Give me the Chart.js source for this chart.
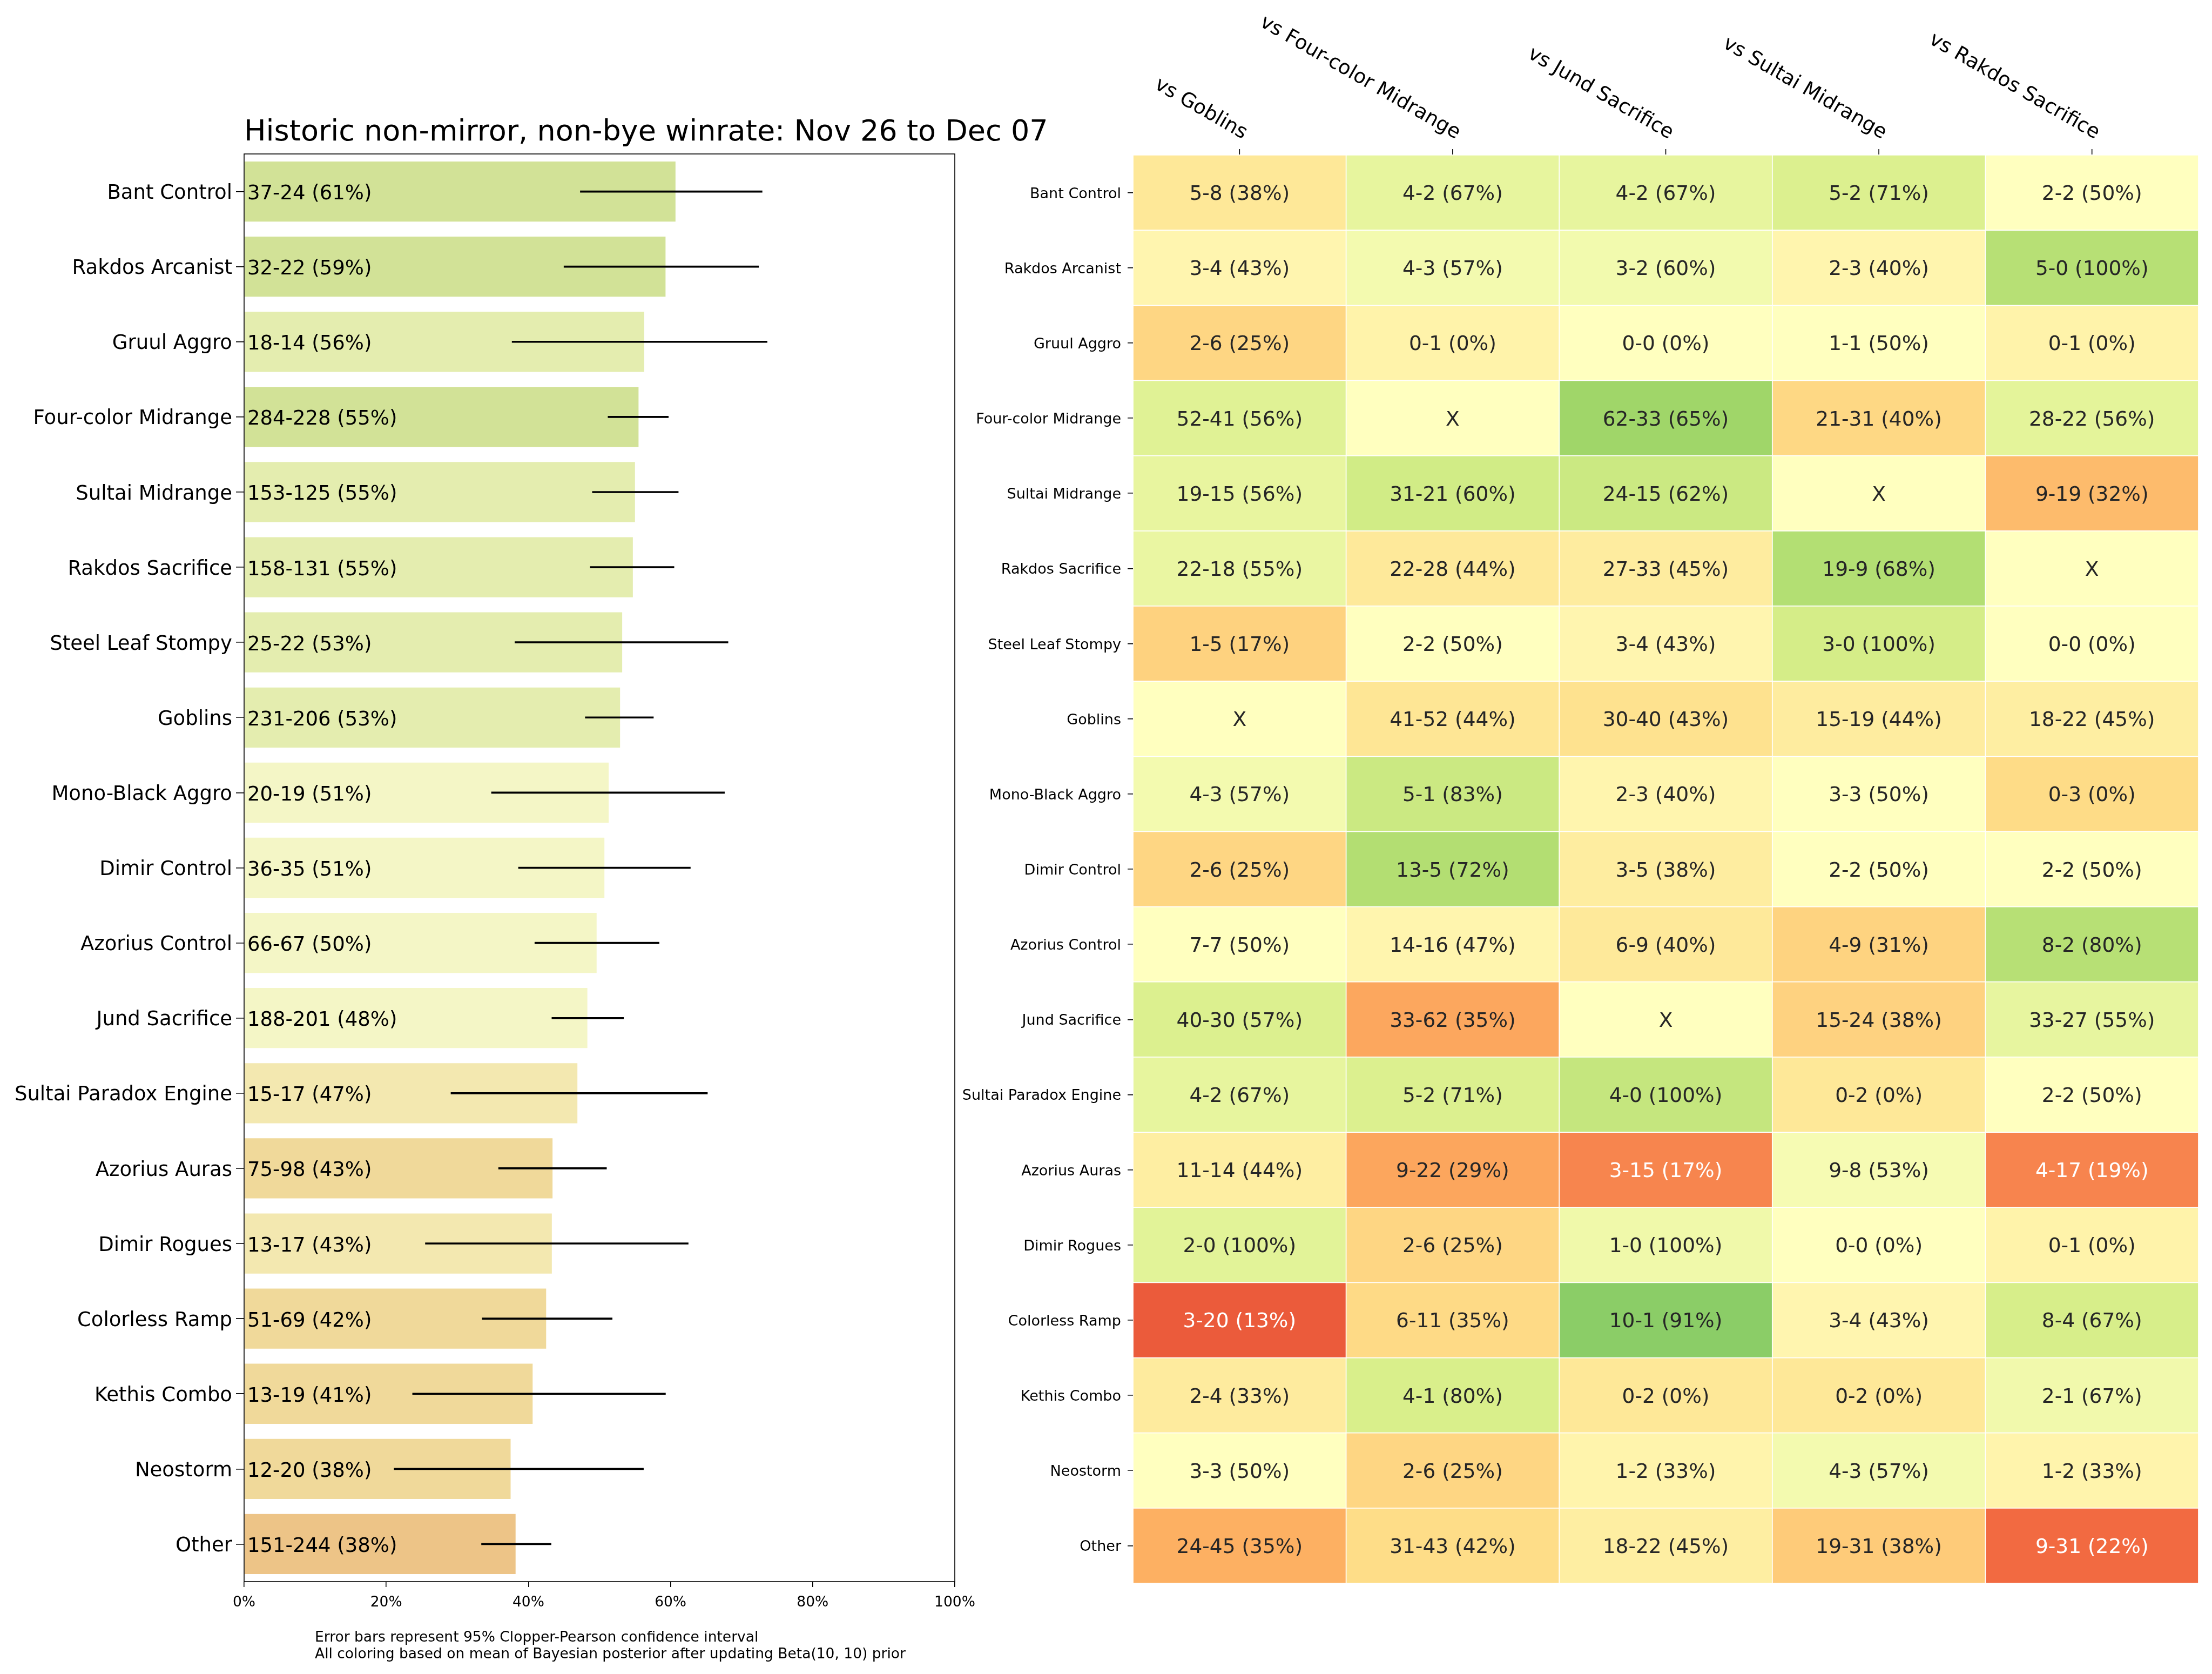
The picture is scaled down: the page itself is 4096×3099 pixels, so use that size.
<!DOCTYPE html>
<html>
<head>
<meta charset="utf-8">
<script src="https://cdn.jsdelivr.net/npm/chart.js@4.4.1/dist/chart.umd.min.js"></script>
<style>
html, body { margin: 0; padding: 0; background: #fff; }
#wrap { position: relative; width: 4096px; height: 3099px; overflow: hidden; background: #fff; }
canvas { position: absolute; top: 0; }
#bars { left: 0; }
#heat { left: 1700px; }
</style>
</head>
<body>
<div id="wrap">
<canvas id="heat" width="2396" height="3099"></canvas>
<canvas id="bars" width="2050" height="3099"></canvas>
</div>
<script>
// data
var decks = ['Bant Control', 'Rakdos Arcanist', 'Gruul Aggro', 'Four-color Midrange', 'Sultai Midrange',
    'Rakdos Sacrifice', 'Steel Leaf Stompy', 'Goblins', 'Mono-Black Aggro', 'Dimir Control',
    'Azorius Control', 'Jund Sacrifice', 'Sultai Paradox Engine', 'Azorius Auras', 'Dimir Rogues',
    'Colorless Ramp', 'Kethis Combo', 'Neostorm', 'Other'];
var deckWins = [37, 32, 18, 284, 153, 158, 25, 231, 20, 36, 66, 188, 15, 75, 13, 51, 13, 12, 151];
var deckLosses = [24, 22, 14, 228, 125, 131, 22, 206, 19, 35, 67, 201, 17, 98, 17, 69, 19, 20, 244];
var winRate = [60.7, 59.3, 56.3, 55.5, 55.0, 54.7, 53.2, 52.9, 51.3, 50.7, 49.6, 48.3, 46.9, 43.4, 43.3, 42.5, 40.6, 37.5, 38.2];
var ciLow = [47.3, 45.0, 37.7, 51.2, 49.0, 48.7, 38.1, 48.0, 34.8, 38.6, 40.9, 43.3, 29.1, 35.8, 25.5, 33.5, 23.7, 21.1, 33.4];
var ciHigh = [72.9, 72.4, 73.6, 59.7, 61.1, 60.5, 68.1, 57.6, 67.6, 62.8, 58.4, 53.4, 65.2, 51.0, 62.5, 51.8, 59.3, 56.2, 43.2];
var barColors = ['#d2e297', '#d2e297', '#e4edaf', '#d2e297', '#e4edaf', '#e4edaf', '#e4edaf', '#e4edaf',
    '#f4f6c6', '#f4f6c6', '#f4f6c6', '#f4f6c6', '#f3e8b0', '#f0d99a', '#f3e8b0', '#f0d99a', '#f0d99a',
    '#f0d99a', '#edc487'];
var xTicks = [0, 20, 40, 60, 80, 100];

var opponents = ['vs Goblins', 'vs Four-color Midrange', 'vs Jund Sacrifice', 'vs Sultai Midrange', 'vs Rakdos Sacrifice'];
// [wins, losses] per deck row, null = mirror
var vsGoblins = [[5, 8], [3, 4], [2, 6], [52, 41], [19, 15], [22, 18], [1, 5], null, [4, 3], [2, 6],
    [7, 7], [40, 30], [4, 2], [11, 14], [2, 0], [3, 20], [2, 4], [3, 3], [24, 45]];
var vsFourColor = [[4, 2], [4, 3], [0, 1], null, [31, 21], [22, 28], [2, 2], [41, 52], [5, 1], [13, 5],
    [14, 16], [33, 62], [5, 2], [9, 22], [2, 6], [6, 11], [4, 1], [2, 6], [31, 43]];
var vsJund = [[4, 2], [3, 2], [0, 0], [62, 33], [24, 15], [27, 33], [3, 4], [30, 40], [2, 3], [3, 5],
    [6, 9], null, [4, 0], [3, 15], [1, 0], [10, 1], [0, 2], [1, 2], [18, 22]];
var vsSultai = [[5, 2], [2, 3], [1, 1], [21, 31], null, [19, 9], [3, 0], [15, 19], [3, 3], [2, 2],
    [4, 9], [15, 24], [0, 2], [9, 8], [0, 0], [3, 4], [0, 2], [4, 3], [19, 31]];
var vsRakdos = [[2, 2], [5, 0], [0, 1], [28, 22], [9, 19], null, [0, 0], [18, 22], [0, 3], [2, 2],
    [8, 2], [33, 27], [2, 2], [4, 17], [0, 1], [8, 4], [2, 1], [1, 2], [9, 31]];
var matchups = [vsGoblins, vsFourColor, vsJund, vsSultai, vsRakdos];

var titleText = 'Historic non-mirror, non-bye winrate: Nov 26 to Dec 07';
var notes = ['Error bars represent 95% Clopper-Pearson confidence interval',
    'All coloring based on mean of Bayesian posterior after updating Beta(10, 10) prior'];

// helpers
var FONT = "'DejaVu Sans', sans-serif";
Chart.defaults.font.family = FONT;
Chart.defaults.color = '#000';

var rdylgn = [[165, 0, 38], [215, 48, 39], [244, 109, 67], [253, 174, 97], [254, 224, 139], [255, 255, 191],
    [217, 239, 139], [166, 217, 106], [102, 189, 99], [26, 152, 80], [0, 104, 55]];

function cmap(t) {
    t = Math.max(0, Math.min(1, t));
    var p = t * 10, i = Math.min(9, Math.floor(p)), f = p - i;
    var a = rdylgn[i], b = rdylgn[i + 1];
    return [0, 1, 2].map(function (k) { return Math.round(a[k] + (b[k] - a[k]) * f); });
}

// posterior mean with Beta(10, 10), colour scale 0.2 .. 0.8
function cellRgb(rec) {
    var v = rec ? (rec[0] + 10) / (rec[0] + rec[1] + 20) : 0.5;
    return cmap((v - 0.2) / 0.6);
}

function luminance(rgb) {
    var c = rgb.map(function (x) {
        x = x / 255;
        return x <= 0.03928 ? x / 12.92 : Math.pow((x + 0.055) / 1.055, 2.4);
    });
    return 0.2126 * c[0] + 0.7152 * c[1] + 0.0722 * c[2];
}

function pct(w, l) {
    var n = w + l;
    if (!n) return '0%';
    var p = w / n * 100, fl = Math.floor(p), r = Math.round(p);
    if (Math.abs(p - fl - 0.5) < 1e-9 && fl % 2 === 0) r = fl;
    return r + '%';
}

function recLabel(rec) {
    return rec ? rec[0] + '-' + rec[1] + ' (' + pct(rec[0], rec[1]) + ')' : 'X';
}

// left panel: winrate bars
var barDecor = {
    id: 'barDecor',
    afterDatasetsDraw: function (chart) {
        var ctx = chart.ctx, area = chart.chartArea, y = chart.scales.y;
        ctx.save();
        ctx.fillStyle = '#000';
        ctx.font = '37px ' + FONT;
        ctx.textAlign = 'left';
        ctx.textBaseline = 'alphabetic';
        decks.forEach(function (d, i) {
            ctx.fillText(deckWins[i] + '-' + deckLosses[i] + ' (' + pct(deckWins[i], deckLosses[i]) + ')',
                area.left + 6, y.getPixelForValue(i) + 14.5);
        });
        ctx.strokeStyle = '#000';
        ctx.lineWidth = 1.6;
        ctx.strokeRect(area.left, area.top, area.right - area.left, area.bottom - area.top);

        ctx.font = '54px ' + FONT;
        ctx.fillText(titleText, area.left, 260);

        ctx.font = '26.5px ' + FONT;
        ctx.fillText(notes[0], 583, 3039);
        ctx.fillText(notes[1], 583, 3070);
        ctx.restore();
    }
};

new Chart(document.getElementById('bars'), {
    type: 'bar',
    data: {
        labels: decks,
        datasets: [
            {
                data: decks.map(function (d, i) { return [ciLow[i], ciHigh[i]]; }),
                backgroundColor: '#000',
                barThickness: 3,
                grouped: false,
                order: 0
            },
            {
                data: winRate,
                backgroundColor: barColors,
                barPercentage: 0.8,
                categoryPercentage: 1,
                grouped: false,
                order: 1
            }
        ]
    },
    options: {
        indexAxis: 'y',
        responsive: false,
        animation: false,
        devicePixelRatio: 1,
        layout: { padding: { top: 285, right: 282, bottom: 111, left: 0 } },
        plugins: { legend: { display: false }, tooltip: { enabled: false } },
        scales: {
            x: {
                min: 0,
                max: 100,
                afterBuildTicks: function (s) {
                    s.ticks = xTicks.map(function (v) { return { value: v }; });
                },
                ticks: {
                    callback: function (v) { return v + '%'; },
                    font: { size: 26.5 },
                    padding: 13,
                    maxRotation: 0,
                    color: '#000'
                },
                grid: { drawOnChartArea: false, tickLength: 10, color: '#000', lineWidth: 1.6 },
                border: { display: false },
                afterFit: function (s) { s.height = 60; }
            },
            y: {
                ticks: { font: { size: 37 }, padding: 7, autoSkip: false, labelOffset: 4, color: '#000' },
                grid: { drawOnChartArea: false, offset: false, tickLength: 15, color: '#000', lineWidth: 1.6 },
                border: { display: false },
                afterFit: function (s) { s.width = 452; }
            }
        }
    },
    plugins: [barDecor]
});

// right panel: matchup heatmap
var heatDecor = {
    id: 'heatDecor',
    afterDatasetsDraw: function (chart) {
        var ctx = chart.ctx, area = chart.chartArea, x = chart.scales.x;
        ctx.save();
        ctx.font = '37.5px ' + FONT;
        ctx.textAlign = 'center';
        ctx.textBaseline = 'alphabetic';
        matchups.forEach(function (col, c) {
            var meta = chart.getDatasetMeta(c);
            meta.data.forEach(function (el, i) {
                var rgb = cellRgb(col[i]);
                ctx.fillStyle = luminance(rgb) > 0.408 ? '#262626' : '#fff';
                ctx.fillText(recLabel(col[i]), (el.x + el.base) / 2, el.y + 13.5);
            });
        });

        ctx.strokeStyle = '#000';
        ctx.fillStyle = '#000';
        ctx.lineWidth = 1.6;
        ctx.font = '37px ' + FONT;
        ctx.textAlign = 'right';
        opponents.forEach(function (name, c) {
            var cx = x.getPixelForValue(c + 0.5);
            ctx.beginPath();
            ctx.moveTo(cx, area.top - 11);
            ctx.lineTo(cx, area.top - 1);
            ctx.stroke();
            ctx.save();
            ctx.translate(cx + 6, area.top - 29);
            ctx.rotate(30 * Math.PI / 180);
            ctx.fillText(name, 0, 0);
            ctx.restore();
        });
        ctx.restore();
    }
};

new Chart(document.getElementById('heat'), {
    type: 'bar',
    data: {
        labels: decks,
        datasets: matchups.map(function (col, c) {
            return {
                label: opponents[c],
                data: col.map(function () { return 1; }),
                backgroundColor: col.map(function (rec) {
                    var rgb = cellRgb(rec);
                    return 'rgb(' + rgb.join(',') + ')';
                }),
                borderColor: '#fff',
                borderWidth: 1.2,
                borderSkipped: false,
                barPercentage: 1,
                categoryPercentage: 1
            };
        })
    },
    options: {
        indexAxis: 'y',
        responsive: false,
        animation: false,
        devicePixelRatio: 1,
        layout: { padding: { top: 287, right: 25, bottom: 168, left: 0 } },
        plugins: { legend: { display: false }, tooltip: { enabled: false } },
        scales: {
            x: { stacked: true, min: 0, max: 5, display: false },
            y: {
                stacked: true,
                ticks: { font: { size: 27 }, padding: 12, autoSkip: false, labelOffset: 3, color: '#000' },
                grid: { drawOnChartArea: false, offset: false, tickLength: 10, color: '#000', lineWidth: 1.6 },
                border: { display: false },
                afterFit: function (s) { s.width = 398; }
            }
        }
    },
    plugins: [heatDecor]
});
</script>
</body>
</html>
